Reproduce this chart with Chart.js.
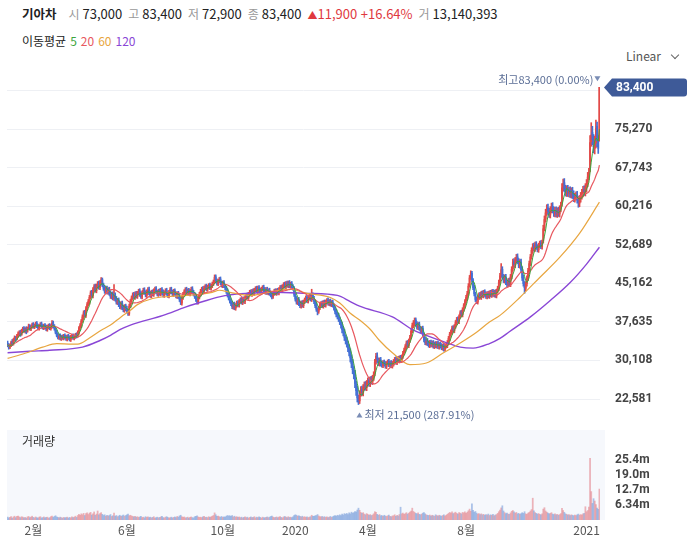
<!DOCTYPE html>
<html lang="ko">
<head>
<meta charset="utf-8">
<script src="https://cdn.jsdelivr.net/npm/chart.js@4.4.1/dist/chart.umd.min.js"></script>
<style>
  body { margin: 0; width: 692px; height: 545px; background: #fff; position: relative; overflow: hidden;
         font-family: "Noto Sans CJK KR", "Noto Sans", sans-serif; color: #222; }
  .abs { position: absolute; white-space: nowrap; }
  #hdr { left: 22px; top: 4px; font-size: 13px; line-height: 20px; }
  #hdr b { margin-right: 12px; font-size: 12.5px; }
  #hdr .k { color: #999; font-size: 12px; margin-right: 3px; }
  #hdr .v { margin-right: 6px; }
  #hdr .up { color: #e0383e; }
  #ma { left: 22px; top: 31px; font-size: 12px; line-height: 20px; }
  #ma span { margin-left: 4px; }
  #linear { left: 626px; top: 46px; font-size: 12px; line-height: 20px; color: #555; }
  #linear i { display: inline-block; width: 5px; height: 5px; border-right: 1px solid #666; border-bottom: 1px solid #666;
              transform: rotate(45deg); margin-left: 11px; position: relative; top: -3px; }
  #volLabel { left: 22px; top: 432px; font-size: 12px; line-height: 18px; color: #333; }
  canvas { position: absolute; left: 0; }
  #price { top: 57px; }
  #vol { top: 420px; }
</style>
</head>
<body>
<div id="hdr" class="abs"></div>
<div id="ma" class="abs">이동평균<span style="color:#3da53d">5</span><span style="color:#e8585f">20</span><span style="color:#e8a640">60</span><span style="color:#8a47d6">120</span></div>
<div id="linear" class="abs">Linear<i></i></div>
<canvas id="price" width="692" height="371"></canvas>
<canvas id="vol" width="692" height="125"></canvas>
<div id="volLabel" class="abs">거래량</div>
<script>
// daily candles, prices in thousand won
const opens = [
33.5,33.1,32.7,33.0,33.7,33.4,34.2,34.5,34.3,35.0,
35.2,35.7,35.2,35.8,36.4,35.8,36.3,35.8,36.5,36.9,
36.2,36.7,37.2,36.6,36.9,37.4,36.9,36.3,37.0,37.3,
36.8,36.4,37.0,36.7,36.1,36.6,37.0,36.3,36.7,37.5,
36.8,36.2,35.7,35.1,34.5,35.0,34.3,34.8,34.4,35.0,
34.7,34.2,34.9,34.6,34.1,34.6,35.0,34.4,34.7,35.2,
34.9,35.5,36.5,36.8,37.9,38.5,39.6,38.9,40.3,41.1,
41.5,42.5,43.4,42.7,44.0,44.6,43.7,44.7,45.2,44.3,
45.2,45.9,44.8,44.3,43.5,44.2,43.4,44.0,43.3,42.5,
43.1,42.2,42.9,42.2,41.4,41.9,41.1,40.5,41.3,40.5,
39.9,40.7,40.3,39.7,39.3,40.8,41.5,42.4,43.0,42.4,
43.2,42.6,43.3,43.7,43.1,42.5,43.4,43.9,43.3,42.8,
43.4,44.0,43.2,42.7,43.5,43.0,43.8,44.1,43.4,43.0,
43.7,43.1,43.9,43.5,42.8,43.4,43.8,43.1,42.7,43.5,
44.0,43.4,43.0,43.7,43.1,42.6,43.2,42.7,41.9,41.3,
42.4,43.1,43.4,44.0,43.3,43.8,43.1,43.7,44.1,43.4,
43.0,42.7,41.9,41.5,42.5,43.1,43.5,44.1,43.6,44.3,
44.6,44.0,44.5,44.8,44.2,44.7,45.1,45.5,46.4,45.6,
45.1,45.7,46.0,45.2,44.7,45.3,44.6,44.2,43.7,42.8,
42.4,41.6,41.3,40.5,41.1,40.3,40.9,41.4,40.9,41.7,
42.0,41.4,42.1,41.6,42.4,42.9,42.4,43.1,43.5,43.0,
43.7,43.2,43.9,44.2,43.6,44.3,43.8,43.4,44.1,44.4,
43.9,43.4,44.0,43.3,43.8,43.1,42.8,42.6,43.2,43.7,
43.2,43.8,43.3,44.0,44.4,43.9,44.6,45.0,44.5,45.2,
44.7,45.3,44.6,45.1,44.5,44.1,42.9,42.2,41.4,42.0,
41.3,40.7,41.4,40.8,41.6,42.0,42.4,41.7,42.3,42.7,
42.0,42.9,42.2,41.5,40.9,40.0,39.7,40.4,41.0,41.3,
40.7,41.5,40.9,41.6,41.9,41.2,41.7,41.0,41.5,40.8,
40.2,39.7,39.0,38.8,38.1,37.5,37.1,36.0,35.6,34.5,
34.1,33.3,32.6,31.8,30.5,29.6,28.2,27.5,25.4,24.4,
22.5,22.2,23.7,24.5,23.8,24.9,25.4,24.8,25.7,26.2,
25.6,26.4,25.9,26.7,27.6,29.9,31.0,30.1,29.5,30.2,
29.6,29.1,29.8,29.5,28.9,29.6,29.9,29.2,29.7,29.0,
29.4,30.0,30.4,29.7,30.5,30.0,30.7,30.1,30.9,31.6,
32.2,32.7,33.6,33.0,34.0,34.7,35.9,37.0,37.3,38.0,
37.3,36.5,37.2,36.3,35.8,36.4,35.1,34.2,33.5,34.0,
33.5,33.0,33.7,33.1,33.6,32.8,33.4,32.9,33.5,32.7,
33.3,33.0,32.5,33.0,32.3,32.9,33.0,33.7,34.3,35.3,
35.6,36.5,35.9,36.8,37.4,38.2,37.7,38.7,39.5,39.0,
40.1,40.7,41.7,42.3,43.2,44.8,46.3,47.1,45.7,44.4,
43.0,42.1,41.5,42.4,43.0,42.4,43.3,42.7,43.5,43.1,
42.5,43.2,42.6,43.4,42.8,43.6,42.9,43.5,42.7,43.7,
44.1,45.4,46.8,47.9,46.4,45.7,46.4,45.3,45.0,45.7,
45.0,46.5,48.0,49.4,48.7,49.7,50.3,49.4,48.6,49.3,
47.9,46.3,45.0,44.2,45.1,46.2,47.5,49.1,50.4,51.5,
52.5,51.9,52.8,52.2,51.7,52.6,53.0,52.3,53.5,56.0,
57.7,59.0,59.9,59.1,58.5,59.5,60.2,59.4,58.7,59.4,
58.6,59.3,58.7,59.7,60.8,63.9,64.8,63.6,62.8,63.6,
62.7,63.3,62.5,63.2,62.5,61.7,62.1,62.4,61.4,60.8,
61.7,62.3,62.7,63.5,62.9,
63.8,64.8,66.0,67.2,72.8,74.6,73.0,71.5,72.5,75.8,73.2,73.0];

const highs = [
33.9,33.4,33.3,33.9,34.2,34.4,34.9,34.8,35.2,35.7,
35.9,36.0,36.2,36.6,36.7,36.5,36.7,36.6,37.2,37.1,
36.9,37.4,37.5,37.2,37.6,37.7,37.2,37.1,37.5,37.6,
37.1,37.2,37.3,37.0,37.0,37.2,37.3,37.1,37.9,37.8,
37.1,36.5,36.0,35.4,35.2,35.3,35.0,35.1,35.2,35.3,
35.0,35.1,35.2,34.9,35.0,35.2,35.3,35.1,35.4,35.5,
35.9,36.7,37.3,38.1,39.0,39.8,39.9,40.6,41.4,42.0,
42.8,43.7,43.8,44.3,44.9,45.0,45.0,45.5,45.6,45.7,
46.3,46.2,45.2,44.7,44.5,44.6,44.3,44.4,43.7,43.4,
43.5,44.9,43.3,42.6,42.2,42.3,41.5,41.6,41.7,40.9,
41.0,41.1,40.7,40.1,41.1,42.0,42.7,43.3,43.4,43.5,
43.6,43.6,44.0,44.1,43.5,43.7,44.2,44.3,43.7,43.9,
44.3,44.4,43.6,43.8,43.9,44.1,44.4,44.5,43.8,44.0,
44.1,44.2,44.3,43.9,43.7,44.1,44.2,43.5,43.8,44.3,
44.4,43.8,44.0,44.1,43.5,43.5,43.6,43.1,42.3,42.7,
43.4,43.9,44.3,44.4,44.1,44.2,44.0,44.4,44.5,43.8,
43.4,43.1,42.3,42.8,43.4,44.0,44.4,44.5,44.6,44.9,
45.0,44.8,45.1,45.2,45.0,45.4,45.8,46.8,46.8,46.0,
46.0,46.3,46.4,45.6,45.6,45.7,45.0,44.6,44.1,43.2,
42.8,42.0,41.7,41.4,41.5,41.2,41.7,41.8,42.0,42.3,
42.4,42.4,42.5,42.7,43.2,43.3,43.4,43.8,43.9,44.0,
44.1,44.2,44.5,44.6,44.6,44.7,44.2,44.4,44.7,44.8,
44.3,44.3,44.4,44.1,44.2,43.5,43.2,43.5,44.0,44.1,
44.1,44.2,44.3,44.7,44.8,44.9,45.3,45.4,45.5,45.6,
45.6,45.7,45.4,45.5,44.9,44.5,43.3,42.6,42.3,42.4,
41.7,41.7,41.8,41.9,42.3,42.7,42.8,42.6,43.0,43.1,
44.0,43.3,42.6,41.9,41.3,40.4,40.7,41.3,41.6,41.7,
41.8,41.9,41.9,42.2,42.3,42.0,42.1,41.8,41.9,41.2,
40.6,40.1,39.5,39.3,38.6,38.0,37.6,36.6,36.2,35.1,
34.7,33.9,33.2,32.4,31.2,30.3,28.9,28.2,26.1,25.1,
23.3,24.2,25.0,25.1,25.4,25.9,26.0,26.2,26.7,26.8,
26.9,27.0,27.2,27.9,30.3,31.5,31.6,30.6,30.6,30.7,
30.0,30.1,30.2,29.9,29.9,30.2,30.3,30.0,30.1,29.9,
30.3,30.7,30.8,30.8,30.9,31.0,31.1,31.2,31.9,32.5,
33.2,33.9,34.0,34.3,35.0,36.2,37.4,37.9,38.4,38.4,
37.7,37.5,37.6,36.7,36.7,36.8,35.5,34.6,34.3,34.4,
33.9,34.0,34.1,33.9,34.0,33.7,33.8,33.8,33.9,33.6,
33.7,33.4,33.3,33.4,33.2,33.5,34.0,34.8,35.6,36.1,
36.8,36.9,37.1,37.9,38.5,38.6,39.0,39.8,39.9,40.4,
41.2,42.0,42.8,43.6,45.1,46.7,47.6,47.5,46.1,44.8,
43.4,42.5,42.7,43.3,43.4,43.6,43.7,43.8,43.9,43.5,
43.5,43.6,43.7,43.8,43.9,44.0,43.8,43.9,44.0,44.6,
45.8,47.1,49.0,48.4,46.9,46.8,46.9,45.8,46.1,46.2,
46.9,48.4,49.9,50.0,50.2,50.8,50.9,50.0,49.8,49.9,
48.4,46.8,45.5,45.5,46.6,48.1,49.5,50.8,52.1,52.9,
53.0,53.2,53.3,52.7,53.0,53.4,53.5,53.6,56.5,58.3,
59.6,60.5,60.6,59.8,60.1,60.8,60.9,60.1,60.0,60.1,
59.9,60.0,60.3,61.0,64.6,65.5,65.6,64.3,64.2,64.3,
63.9,64.0,63.8,63.9,63.2,62.7,63.0,63.1,62.1,62.3,
62.9,63.5,64.1,64.2,64.6,
65.4,66.8,67.6,74.0,76.5,75.8,74.2,73.9,77.0,76.6,74.0,83.4];

const lows = [
32.8,32.3,32.4,32.8,33.0,33.1,33.9,33.8,34.1,34.6,
34.9,34.8,35.0,35.5,35.6,35.5,35.3,35.6,36.2,36.0,
35.9,36.4,36.4,36.3,36.6,36.5,36.1,36.0,36.7,36.4,
36.2,36.1,36.3,35.9,35.8,36.3,36.1,36.0,36.4,36.5,
36.0,35.3,34.7,34.3,34.2,34.1,34.0,34.2,34.1,34.3,
34.0,33.9,34.2,33.9,33.8,34.3,34.2,34.1,34.4,34.5,
34.6,35.2,36.1,36.5,37.5,38.1,38.6,38.5,39.9,40.7,
41.1,42.1,42.4,42.3,43.6,43.4,43.3,44.3,44.0,43.9,
44.8,44.5,43.8,43.2,43.1,43.1,43.0,42.8,42.2,42.1,
41.9,41.8,41.7,41.1,41.0,40.6,40.2,40.1,40.0,39.6,
39.5,39.8,39.4,38.9,38.9,40.4,41.1,42.0,42.1,42.0,
42.3,42.2,42.9,42.6,42.2,42.1,43.0,43.0,42.5,42.4,
43.0,42.9,42.4,42.3,42.7,42.6,43.4,43.1,42.7,42.6,
42.8,42.7,43.0,42.5,42.4,43.0,42.8,42.4,42.3,43.1,
43.1,42.7,42.6,42.8,42.3,42.2,42.2,41.6,41.0,40.9,
42.0,42.7,43.0,43.0,42.9,42.8,42.7,43.3,43.1,42.7,
42.2,41.6,41.1,41.1,42.1,42.7,43.1,43.3,43.2,43.9,
43.7,43.6,44.1,43.9,43.8,44.3,44.7,45.1,45.3,44.8,
44.7,45.3,44.9,44.4,44.3,44.3,43.9,43.2,42.5,41.9,
41.3,40.8,40.2,40.1,40.0,39.9,40.5,40.6,40.5,41.3,
41.1,41.0,41.3,41.2,42.0,42.1,42.0,42.7,42.7,42.6,
42.9,42.8,43.5,43.3,43.2,43.5,43.1,43.0,43.7,43.4,
43.1,43.0,43.0,42.9,42.8,42.5,42.1,42.2,42.8,42.9,
42.8,43.0,42.9,43.6,43.6,43.5,44.2,44.2,44.1,44.4,
44.3,44.3,44.2,44.2,43.8,42.6,41.7,41.1,41.0,40.8,
40.4,40.3,40.5,40.4,41.2,41.6,41.4,41.3,41.9,41.7,
41.6,41.9,41.2,40.4,39.7,39.0,39.3,40.0,40.6,40.4,
40.3,40.6,40.5,41.2,40.9,40.8,40.7,40.6,40.5,39.9,
39.2,38.6,38.2,37.7,37.1,36.4,35.5,34.9,34.0,33.3,
32.7,31.8,31.0,29.8,28.7,27.5,26.5,24.8,23.3,22.0,
21.5,21.7,23.1,23.3,23.2,24.3,24.3,24.2,25.1,25.1,
25.0,25.5,25.4,26.2,27.1,29.4,29.7,29.1,29.0,29.0,
28.8,28.7,29.0,28.6,28.5,29.2,28.9,28.8,28.7,28.6,
29.0,29.6,29.4,29.3,29.7,29.6,29.8,29.7,30.5,31.2,
31.8,32.3,32.7,32.6,33.6,34.3,35.5,36.5,36.8,36.8,
36.2,36.1,36.0,35.5,35.4,34.8,33.7,33.2,33.1,33.0,
32.7,32.6,32.8,32.7,32.5,32.4,32.6,32.5,32.4,32.3,
32.5,32.2,32.1,31.9,31.9,32.5,32.6,33.3,33.9,34.9,
35.2,35.6,35.5,36.4,37.0,37.4,37.3,38.3,38.7,38.6,
39.7,40.3,41.3,41.9,42.8,44.4,45.9,45.4,43.9,42.7,
41.6,41.2,41.1,42.0,42.1,42.0,42.4,42.3,42.6,42.2,
42.1,42.3,42.2,42.5,42.4,42.6,42.5,42.4,42.3,43.3,
43.7,45.0,46.3,46.0,45.3,45.2,44.9,44.4,44.5,44.6,
44.5,46.0,47.5,48.3,48.2,49.2,49.0,48.2,48.1,47.3,
45.7,44.6,43.2,43.7,44.6,45.7,47.0,48.6,49.9,51.0,
51.5,51.4,51.8,51.3,51.2,52.1,51.9,51.8,53.0,55.4,
57.1,58.4,58.6,58.0,57.9,58.9,58.9,58.2,58.1,58.1,
58.0,58.2,58.1,59.1,60.2,63.2,63.0,62.2,62.1,62.1,
62.0,61.9,61.8,61.7,61.1,61.0,61.4,60.8,60.0,60.1,
61.0,61.6,62.0,62.3,62.2,
63.0,64.0,65.4,66.9,71.9,72.2,70.6,70.4,71.6,71.8,70.5,72.9];

const closes = [
33.2,32.6,32.9,33.6,33.3,34.1,34.6,34.2,34.9,35.3,
35.6,35.1,35.8,36.3,35.9,36.2,35.7,36.4,36.8,36.3,
36.6,37.1,36.7,36.9,37.3,36.8,36.4,36.9,37.2,36.7,
36.5,36.9,36.6,36.2,36.7,36.9,36.4,36.8,37.4,36.9,
36.3,35.6,35.0,34.6,34.9,34.4,34.7,34.5,34.9,34.6,
34.3,34.8,34.5,34.2,34.7,34.9,34.5,34.8,35.1,34.8,
35.6,36.4,36.9,37.8,38.6,39.4,39.0,40.2,41.0,41.6,
42.4,43.3,42.8,43.9,44.5,43.8,44.6,45.1,44.4,45.3,
45.8,44.9,44.2,43.6,44.1,43.5,43.9,43.2,42.6,43.0,
42.3,42.8,42.1,41.5,41.8,41.0,40.6,41.2,40.4,40.0,
40.6,40.2,39.8,39.4,40.7,41.6,42.3,42.9,42.5,43.1,
42.7,43.2,43.6,43.0,42.6,43.3,43.8,43.4,42.9,43.5,
43.9,43.3,42.8,43.4,43.1,43.7,44.0,43.5,43.1,43.6,
43.2,43.8,43.4,42.9,43.3,43.7,43.2,42.8,43.4,43.9,
43.5,43.1,43.6,43.2,42.7,43.1,42.6,42.0,41.4,42.3,
43.0,43.5,43.9,43.4,43.7,43.2,43.6,44.0,43.5,43.1,
42.6,42.0,41.6,42.4,43.0,43.6,44.0,43.7,44.2,44.5,
44.1,44.4,44.7,44.3,44.6,45.0,45.4,46.3,45.7,45.2,
45.6,45.9,45.3,44.8,45.2,44.7,44.3,43.6,42.9,42.3,
41.7,41.2,40.6,41.0,40.4,40.8,41.3,41.0,41.6,41.9,
41.5,42.0,41.7,42.3,42.8,42.5,43.0,43.4,43.1,43.6,
43.3,43.8,44.1,43.7,44.2,43.9,43.5,44.0,44.3,43.8,
43.5,43.9,43.4,43.7,43.2,42.9,42.5,43.1,43.6,43.3,
43.7,43.4,43.9,44.3,44.0,44.5,44.9,44.6,45.1,44.8,
45.2,44.7,45.0,44.6,44.2,43.0,42.1,41.5,41.9,41.2,
40.8,41.3,40.9,41.5,41.9,42.3,41.8,42.2,42.6,42.1,
42.8,42.3,41.6,40.8,40.1,39.6,40.3,40.9,41.2,40.8,
41.4,41.0,41.5,41.8,41.3,41.6,41.1,41.4,40.9,40.3,
39.6,39.1,38.7,38.2,37.6,37.0,36.1,35.5,34.6,34.0,
33.4,32.5,31.7,30.6,29.5,28.3,27.4,25.6,24.2,22.8,
22.0,23.6,24.4,23.9,24.8,25.3,24.9,25.6,26.1,25.7,
26.3,26.0,26.6,27.3,29.8,30.9,30.2,29.6,30.1,29.5,
29.2,29.7,29.4,29.0,29.5,29.8,29.3,29.6,29.1,29.5,
29.9,30.3,29.8,30.4,30.1,30.6,30.2,30.8,31.5,32.1,
32.8,33.5,33.1,33.9,34.6,35.8,36.9,37.4,37.9,37.2,
36.6,37.1,36.4,35.9,36.3,35.2,34.1,33.6,33.9,33.4,
33.1,33.6,33.2,33.5,32.9,33.3,33.0,33.4,32.8,33.2,
32.9,32.6,32.9,32.4,32.8,33.1,33.6,34.4,35.2,35.7,
36.4,36.0,36.7,37.5,38.1,37.8,38.6,39.4,39.1,40.0,
40.8,41.6,42.4,43.1,44.6,46.2,47.0,45.8,44.3,43.1,
42.0,41.6,42.3,42.9,42.5,43.2,42.8,43.4,43.0,42.6,
43.1,42.7,43.3,42.9,43.5,43.0,43.4,42.8,43.6,44.2,
45.3,46.6,47.8,46.5,45.8,46.3,45.4,44.9,45.6,45.1,
46.4,47.9,49.3,48.8,49.6,50.2,49.5,48.7,49.2,47.8,
46.2,45.1,44.3,45.0,46.1,47.6,49.0,50.3,51.6,52.4,
52.0,52.7,52.3,51.8,52.5,52.9,52.4,53.1,55.8,57.6,
58.9,59.8,59.2,58.6,59.4,60.1,59.5,58.8,59.3,58.7,
59.2,58.8,59.6,60.3,63.8,64.6,63.7,62.9,63.5,62.8,
63.2,62.6,63.1,62.4,61.8,62.0,62.3,61.5,60.9,61.6,
62.2,62.8,63.4,63.0,63.9,
64.6,65.9,66.8,72.6,74.1,73.2,71.8,72.9,75.4,73.0,71.5,83.4];

// volume in millions of shares
const volumes = [
1.2,0.9,1.1,1.4,0.8,1.3,1.6,1.0,1.5,1.7,
1.3,1.0,1.4,1.2,0.9,1.1,0.8,1.3,1.5,1.0,
1.2,1.6,1.1,0.9,1.3,1.0,0.8,1.2,1.4,0.9,
1.0,1.3,0.9,1.1,1.2,0.8,1.0,1.4,1.7,1.1,
1.5,1.8,1.3,1.1,0.9,1.2,1.0,0.8,1.1,0.9,
1.0,1.2,0.8,1.1,0.9,1.3,1.0,1.2,1.6,1.1,
1.9,2.4,2.0,2.6,2.2,2.8,1.9,2.7,3.0,2.3,
2.9,3.2,2.1,2.6,3.4,2.0,2.5,3.8,2.2,2.7,
3.1,2.4,1.9,2.2,1.6,2.0,1.7,1.9,2.3,1.5,
1.8,2.9,1.6,1.9,1.4,1.7,2.0,1.5,1.8,2.1,
1.6,1.9,2.2,2.5,1.8,2.0,1.7,1.5,1.3,1.6,
1.2,1.4,1.1,1.3,1.5,1.0,1.2,0.9,1.4,1.1,
1.3,1.0,1.2,0.9,1.1,1.4,0.8,1.0,1.2,0.9,
1.1,1.3,1.6,1.0,0.9,1.2,1.4,1.1,0.8,1.0,
1.2,0.9,1.1,1.3,1.0,1.5,1.2,1.7,2.0,1.4,
1.1,1.3,0.9,1.0,1.2,0.8,1.1,1.3,1.0,0.9,
1.4,1.6,1.8,1.3,1.1,1.2,1.0,1.3,1.5,1.1,
1.2,1.0,1.4,1.1,1.3,1.6,1.9,3.0,2.2,1.5,
1.7,1.4,1.2,1.5,1.1,1.3,1.2,1.6,1.9,1.7,
1.8,1.5,1.9,1.3,1.6,1.2,1.4,1.1,1.3,1.0,
1.2,0.9,1.1,1.3,1.0,1.2,0.8,1.1,1.3,1.0,
1.1,1.4,0.9,1.2,1.0,1.3,1.1,0.8,1.2,1.0,
0.9,1.1,1.3,1.0,1.2,1.5,1.7,1.2,1.0,1.1,
1.3,1.0,1.2,1.4,1.1,0.9,1.3,1.5,1.2,1.0,
1.4,1.1,1.2,1.0,1.3,1.9,2.2,2.0,1.6,1.8,
1.5,1.3,1.6,1.2,1.4,1.1,1.3,1.0,1.2,1.4,
2.0,1.6,1.5,1.8,1.9,2.3,1.7,1.4,1.3,1.5,
1.2,1.4,1.1,1.3,1.0,1.2,1.5,1.1,1.4,1.7,
1.9,1.6,2.0,1.8,2.2,1.9,2.5,2.1,2.7,2.4,
2.8,2.3,3.0,2.6,3.3,2.9,3.1,3.6,3.4,4.2,
5.0,4.1,3.2,2.8,3.1,2.5,2.2,2.7,2.4,2.0,
2.3,1.9,2.1,2.6,3.5,3.2,2.4,2.0,2.3,1.8,
1.9,1.6,2.0,1.7,1.5,1.8,2.1,1.6,1.4,1.7,
1.8,2.2,1.6,2.0,1.7,2.3,5.4,2.6,2.9,2.4,
2.7,3.1,2.5,2.9,3.3,3.8,5.0,3.6,3.2,2.8,
2.6,3.0,2.4,2.2,2.5,2.9,3.1,2.6,2.2,2.0,
1.9,2.1,1.7,2.0,1.8,1.6,2.2,1.9,1.7,2.0,
1.8,1.6,1.9,2.2,1.7,2.0,2.4,2.8,3.2,2.9,
3.4,2.7,3.0,3.3,2.8,2.5,3.1,2.9,2.6,3.2,
3.0,3.5,2.8,3.3,3.9,4.6,3.7,6.8,4.1,3.3,
3.6,2.9,2.5,2.7,2.3,2.6,2.2,2.4,2.0,2.3,
2.1,2.5,1.9,2.2,2.0,2.4,1.8,2.1,2.3,2.8,
3.5,4.2,5.1,6.0,3.8,3.1,2.7,2.9,2.5,2.4,
3.0,3.7,4.0,3.4,2.9,3.2,2.6,2.8,2.4,2.7,
3.1,2.8,3.5,2.6,2.4,2.9,3.2,3.8,4.4,9.2,
3.9,3.1,2.8,2.5,2.7,2.4,2.2,2.6,4.6,5.2,
3.8,3.3,2.9,2.6,2.8,3.1,2.5,2.3,2.6,2.2,
2.4,2.0,2.3,2.7,4.9,4.0,3.2,2.6,2.4,2.1,
2.3,1.9,2.2,2.0,1.8,2.1,1.9,2.2,2.5,2.0,
2.3,2.1,2.6,2.8,5.6,
3.5,4.0,5.5,26.0,12.0,7.0,9.0,8.0,6.5,5.0,4.5,13.1];
const lastVolume = 13140393;

// 60 and 120 day averages (trading-day index, value)
const ma60At  = [0,15,30,42,55,60,70,80,88,97,105,111,124,139,153,164,175,181,190,207,227,241,256,276,284,293,301,310,318,329,344,358,372,387,401,412,421,438,455,472,489,506];
const ma60Val = [30.5,31.5,32.7,33.4,33.3,33.3,34.5,36.0,37.0,38.6,39.9,41.0,42.2,42.6,42.8,43.0,43.4,43.8,43.4,42.8,43.6,44.0,43.2,42.4,41.3,39.3,38.0,36.2,34.0,31.6,29.3,29.6,31.5,33.5,35.6,37.6,38.9,42.4,46.3,50.2,54.9,61.0];
const ma120At  = [0,19,36,64,79,88,96,105,133,152,170,181,190,207,227,256,282,293,301,329,347,358,376,387,398,412,421,429,447,464,481,495,506];
const ma120Val = [31.6,31.9,32.1,32.7,34.0,35.0,36.1,37.0,38.9,40.5,41.8,42.5,42.9,43.2,43.4,43.2,42.8,41.6,40.7,38.6,36.0,35.0,33.5,32.7,32.5,33.4,34.4,35.7,38.6,41.8,45.3,48.9,52.2];

const priceTicks = [22.581, 30.108, 37.635, 45.162, 52.689, 60.216, 67.743, 75.27, 82.797];
const volTicks = [6.34, 12.7, 19.0, 25.4];
const monthAt = [22, 102, 184, 246, 308, 392, 495];
const monthLabels = ["2월", "6월", "10월", "2020", "4월", "8월", "2021"];

/* styles */
const UP = "#e24a48", DOWN = "#4470d6";
const VOL_UP = "rgba(228,136,144,0.62)", VOL_DOWN = "rgba(122,160,220,0.62)";
const MA_COLORS = ["#3da53d", "#e8585f", "#e8a640", "#8a47d6"];
const AXIS_W = 92;

Chart.defaults.font.family = '"Noto Sans CJK KR", "Noto Sans", sans-serif';

const N = closes.length;
const last = N - 1;
const fmt = (v) => Math.round(v * 1000).toLocaleString("en-US");

// header
const prevClose = closes[last - 1];
const change = closes[last] - prevClose;
document.getElementById("hdr").innerHTML =
    `<b>기아차</b>` +
    `<span class="k">시</span><span class="v">${fmt(opens[last])}</span>` +
    `<span class="k">고</span><span class="v">${fmt(highs[last])}</span>` +
    `<span class="k">저</span><span class="v">${fmt(lows[last])}</span>` +
    `<span class="k">종</span><span class="v">${fmt(closes[last])}</span>` +
    `<span class="up" style="font-size:10px">▲</span><span class="v up">${fmt(change)} +${(change / prevClose * 100).toFixed(2)}%</span>` +
    `<span class="k">거</span><span class="v">${lastVolume.toLocaleString("en-US")}</span>`;

function movingAverage(period) {
    return closes.map((c, i) => {
        const from = Math.max(0, i - period + 1);
        let sum = 0;
        for (let k = from; k <= i; k++) sum += closes[k];
        return { x: i, y: sum / (i - from + 1) };
    });
}

const candleColors = closes.map((c, i) => (c >= opens[i] ? UP : DOWN));
const wicks = closes.map((c, i) => ({ x: i, y: [lows[i], highs[i]] }));
const bodies = closes.map((c, i) => ({ x: i, y: [opens[i], c] }));

const lineSet = (data, color, width, smooth) => ({
    type: "line", data, borderColor: color, borderWidth: width, pointRadius: 0,
    cubicInterpolationMode: smooth ? "monotone" : "default", order: 1
});

// right axis: labels pushed out with an invisible tick mark, so no extra top/bottom padding
const rightAxis = (ticks, label) => ({
    position: "right",
    stacked: false,
    afterBuildTicks: (s) => { s.ticks = ticks.map((v) => ({ value: v })); },
    afterFit: (s) => { s.width = AXIS_W; },
    border: { display: false },
    ticks: { padding: 0, color: "#444", autoSkip: false, font: { family: "Roboto", size: 12, weight: "bold" }, callback: label }
});

/* markers: high / low labels and the current price tag */
const marksPlugin = {
    id: "marks",
    afterDraw(chart) {
        const { ctx } = chart;
        const xs = chart.scales.x, ys = chart.scales.y;
        let hi = 0, lo = 0;
        highs.forEach((h, i) => { if (h > highs[hi]) hi = i; });
        lows.forEach((l, i) => { if (l < lows[lo]) lo = i; });
        ctx.save();
        ctx.font = '11px "Noto Sans CJK KR"';
        ctx.textBaseline = "middle";
        ctx.fillStyle = "#5b6e96";

        const hx = xs.getPixelForValue(hi), hy = ys.getPixelForValue(highs[hi]) - 8;
        ctx.textAlign = "right";
        ctx.fillText(`최고${fmt(highs[hi])} (${((closes[last] - highs[hi]) / highs[hi] * 100).toFixed(2)}%)`, hx - 6, hy);
        ctx.fillStyle = "#7a8db5";
        ctx.beginPath();
        ctx.moveTo(hx - 5, hy - 3); ctx.lineTo(hx + 1, hy - 3); ctx.lineTo(hx - 2, hy + 2); ctx.closePath();
        ctx.fill();

        const lx = xs.getPixelForValue(lo), ly = ys.getPixelForValue(lows[lo]) + 10;
        ctx.beginPath();
        ctx.moveTo(lx - 2, ly + 3); ctx.lineTo(lx + 4, ly + 3); ctx.lineTo(lx + 1, ly - 2); ctx.closePath();
        ctx.fill();
        ctx.fillStyle = "#5b6e96";
        ctx.textAlign = "left";
        ctx.fillText(`최저 ${fmt(lows[lo])} (${((closes[last] - lows[lo]) / lows[lo] * 100).toFixed(2)}%)`, lx + 6, ly);

        // price tag
        const by = Math.round(ys.getPixelForValue(closes[last])) + 0.5;
        const left = chart.chartArea.right + 4, right = 687;
        ctx.fillStyle = "#3e5a98";
        ctx.beginPath();
        ctx.moveTo(left, by);
        ctx.lineTo(left + 8, by - 9);
        ctx.lineTo(right - 3, by - 9);
        ctx.quadraticCurveTo(right, by - 9, right, by - 6);
        ctx.lineTo(right, by + 6);
        ctx.quadraticCurveTo(right, by + 9, right - 3, by + 9);
        ctx.lineTo(left + 8, by + 9);
        ctx.closePath();
        ctx.fill();
        ctx.fillStyle = "#fff";
        ctx.font = "bold 12px Roboto";
        ctx.textAlign = "left";
        ctx.fillText(fmt(closes[last]), left + 12, by + 0.5);
        ctx.restore();
    }
};

const priceY = rightAxis(priceTicks, (v) => fmt(v));
priceY.min = 18.483;
priceY.max = 87.76;
priceY.grid = { color: "#eef0f4", drawTicks: true, tickLength: 15, tickColor: "rgba(0,0,0,0)" };

new Chart(document.getElementById("price"), {
    type: "bar",
    data: {
        datasets: [
            lineSet(movingAverage(5), MA_COLORS[0], 1, false),
            lineSet(movingAverage(20), MA_COLORS[1], 1.2, false),
            lineSet(ma60At.map((x, i) => ({ x, y: ma60Val[i] })), MA_COLORS[2], 1.2, true),
            lineSet(ma120At.map((x, i) => ({ x, y: ma120Val[i] })), MA_COLORS[3], 1.4, true),
            { data: wicks, backgroundColor: candleColors, barThickness: 1, grouped: false, order: 3 },
            { data: bodies, backgroundColor: candleColors, barThickness: 1.2, grouped: false, order: 2 }
        ]
    },
    options: {
        responsive: false,
        animation: false,
        layout: { padding: { left: 7, top: 8, bottom: 8, right: 0 } },
        plugins: { legend: { display: false }, tooltip: { enabled: false } },
        scales: {
            x: { type: "linear", min: -0.5, max: N - 0.5, offset: false, display: false },
            y: priceY
        }
    },
    plugins: [marksPlugin]
});

/* volume pane */
const paneBg = {
    id: "paneBg",
    beforeDraw(chart) {
        const { ctx, chartArea: a } = chart;
        ctx.save();
        ctx.fillStyle = "#f6f8fc";
        ctx.fillRect(a.left, a.top, a.right - a.left + 5, a.bottom - a.top);
        ctx.restore();
    }
};

const volY = rightAxis(volTicks, (v) => v.toPrecision(3) + "m");
volY.min = 0;
volY.max = 38.0;
volY.grid = { display: false, drawTicks: true, tickLength: 15, tickColor: "rgba(0,0,0,0)" };

new Chart(document.getElementById("vol"), {
    type: "bar",
    data: {
        datasets: [{
            data: volumes.map((v, i) => ({ x: i, y: v })),
            backgroundColor: closes.map((c, i) => (c >= opens[i] ? VOL_UP : VOL_DOWN)),
            barThickness: 1.1
        }]
    },
    options: {
        responsive: false,
        animation: false,
        layout: { padding: { left: 7, top: 10, right: 0, bottom: 0 } },
        plugins: { legend: { display: false }, tooltip: { enabled: false } },
        scales: {
            x: {
                type: "linear", min: -0.5, max: N - 0.5, offset: false,
                afterBuildTicks: (s) => { s.ticks = monthAt.map((v) => ({ value: v })); },
                afterFit: (s) => { s.height = 25; },
                grid: { display: false, drawTicks: false },
                border: { display: false },
                ticks: { color: "#555", padding: 3, autoSkip: false, maxRotation: 0, font: { size: 12 },
                         callback: (v, i) => monthLabels[i] }
            },
            y: volY
        }
    },
    plugins: [paneBg]
});
</script>
</body>
</html>
